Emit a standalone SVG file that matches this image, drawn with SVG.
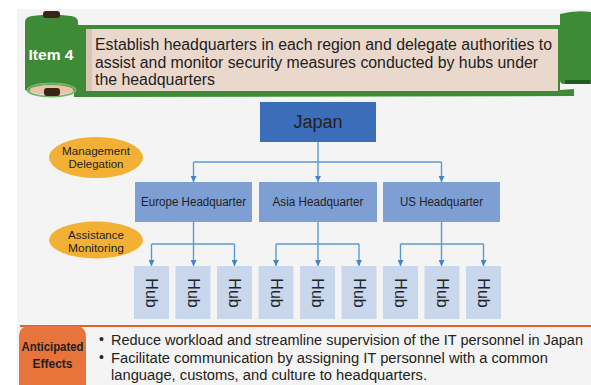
<svg xmlns="http://www.w3.org/2000/svg" width="591" height="385" viewBox="0 0 591 385">
<defs>
<style>
.t{font-family:"Liberation Sans",Arial,sans-serif;fill:#222}
.hq{fill:#7d9fd3}
.hub{fill:#c8d7ec}
.ell{fill:#f2b134}
.con{fill:none;stroke:#5b9bd5;stroke-width:1.4}
</style>
<marker id="ah" viewBox="0 0 6 6" refX="6" refY="3" markerWidth="6" markerHeight="6" markerUnits="userSpaceOnUse" orient="auto">
<path d="M0,0 L6,3 L0,6 Z" fill="#3f86c8"/>
</marker>
</defs>
<rect x="0" y="0" width="591" height="385" fill="#ffffff"/>
<rect x="17" y="9" width="574" height="376" fill="#f4f4f4"/>

<g id="banner">
<path d="M74,25 L560,25 L560,90 L574,89 L574,96 L74,97 Z" fill="#3d8b37"/>
<rect x="86" y="29" width="472" height="62" fill="#ebd8cc"/>
<rect x="86" y="29" width="6" height="62" fill="#d8c3b7"/>
<path d="M560,14 Q575,10 591,12 L591,84 L564,84 Q560,84 560,80 Z" fill="#3d8b37"/>
<path d="M565,80 L590,80 L590,84 L565,84 Z" fill="#1f5a22"/>
<path d="M25,22 Q25,17 32,16 Q51,13 71,16 Q78,17 78,22 L78,90 Q51,98 25,90 Z" fill="#3d8b37"/>
<ellipse cx="51.5" cy="90" rx="22" ry="5" fill="#e9c2a8"/>
<ellipse cx="51.5" cy="90" rx="24" ry="6.5" fill="none" stroke="#77b66f" stroke-width="2"/>
<rect x="43" y="11" width="17" height="7" rx="3" fill="#3a2418"/>
<rect x="44" y="88" width="16" height="8" rx="3" fill="#3a2418"/>
<text class="t" x="51" y="60" font-size="15" font-weight="bold" style="fill:#fff" text-anchor="middle" textLength="45" lengthAdjust="spacingAndGlyphs">Item 4</text>
<text class="t" font-size="16" x="95" y="50" textLength="457" lengthAdjust="spacingAndGlyphs">Establish headquarters in each region and delegate authorities to</text>
<text class="t" font-size="16" x="95" y="68" textLength="443" lengthAdjust="spacingAndGlyphs">assist and monitor security measures conducted by hubs under</text>
<text class="t" font-size="16" x="95" y="85" textLength="120" lengthAdjust="spacingAndGlyphs">the headquarters</text>
</g>

<g id="connectors">
<path class="con" d="M318,142 V162"/>
<path class="con" d="M193.5,162 H441.5"/>
<path class="con" d="M193.5,162 V182" marker-end="url(#ah)"/>
<path class="con" d="M318,162 V182" marker-end="url(#ah)"/>
<path class="con" d="M441.5,162 V182" marker-end="url(#ah)"/>
<path class="con" d="M193.5,222 V266" marker-end="url(#ah)"/>
<path class="con" d="M151.5,244 H234.5"/>
<path class="con" d="M151.5,244 V266" marker-end="url(#ah)"/>
<path class="con" d="M234.5,244 V266" marker-end="url(#ah)"/>
<path class="con" d="M318,222 V266" marker-end="url(#ah)"/>
<path class="con" d="M276,244 H359"/>
<path class="con" d="M276,244 V266" marker-end="url(#ah)"/>
<path class="con" d="M359,244 V266" marker-end="url(#ah)"/>
<path class="con" d="M441.5,222 V266" marker-end="url(#ah)"/>
<path class="con" d="M400.5,244 H483.5"/>
<path class="con" d="M400.5,244 V266" marker-end="url(#ah)"/>
<path class="con" d="M483.5,244 V266" marker-end="url(#ah)"/>
</g>

<g id="japan">
<rect x="260" y="102" width="116" height="40" fill="#3b6db8"/>
<text class="t" x="318" y="128" font-size="18" text-anchor="middle">Japan</text>
</g>

<g id="mgmt">
<ellipse class="ell" cx="96" cy="157.5" rx="47" ry="20.5"/>
<text class="t" x="96" y="154.5" font-size="11.5" text-anchor="middle" textLength="68" lengthAdjust="spacingAndGlyphs">Management</text>
<text class="t" x="96" y="167.5" font-size="11.5" text-anchor="middle" textLength="55" lengthAdjust="spacingAndGlyphs">Delegation</text>
</g>
<g id="assist">
<ellipse class="ell" cx="96" cy="240" rx="47" ry="18.5"/>
<text class="t" x="96" y="238.5" font-size="11.5" text-anchor="middle" textLength="56" lengthAdjust="spacingAndGlyphs">Assistance</text>
<text class="t" x="96" y="251.5" font-size="11.5" text-anchor="middle" textLength="56" lengthAdjust="spacingAndGlyphs">Monitoring</text>
</g>

<g id="hq-europe">
<rect class="hq" x="135" y="182" width="117" height="40"/>
<text class="t" x="193.5" y="206" font-size="12.5" text-anchor="middle" textLength="105" lengthAdjust="spacingAndGlyphs">Europe Headquarter</text>
</g>
<g id="hq-asia">
<rect class="hq" x="259" y="182" width="118" height="40"/>
<text class="t" x="318" y="206" font-size="12.5" text-anchor="middle" textLength="91" lengthAdjust="spacingAndGlyphs">Asia Headquarter</text>
</g>
<g id="hq-us">
<rect class="hq" x="383" y="182" width="117" height="40"/>
<text class="t" x="441.5" y="206" font-size="12.5" text-anchor="middle" textLength="83" lengthAdjust="spacingAndGlyphs">US Headquarter</text>
</g>

<g id="hub1"><rect class="hub" x="134" y="266" width="35" height="53"/><text class="t" font-size="16" text-anchor="middle" transform="translate(151.5,293) rotate(90)" y="5.5">Hub</text></g>
<g id="hub2"><rect class="hub" x="175.5" y="266" width="35" height="53"/><text class="t" font-size="16" text-anchor="middle" transform="translate(193,293) rotate(90)" y="5.5">Hub</text></g>
<g id="hub3"><rect class="hub" x="217" y="266" width="35" height="53"/><text class="t" font-size="16" text-anchor="middle" transform="translate(234.5,293) rotate(90)" y="5.5">Hub</text></g>
<g id="hub4"><rect class="hub" x="258.5" y="266" width="35" height="53"/><text class="t" font-size="16" text-anchor="middle" transform="translate(276,293) rotate(90)" y="5.5">Hub</text></g>
<g id="hub5"><rect class="hub" x="300" y="266" width="35" height="53"/><text class="t" font-size="16" text-anchor="middle" transform="translate(317.5,293) rotate(90)" y="5.5">Hub</text></g>
<g id="hub6"><rect class="hub" x="341.5" y="266" width="35" height="53"/><text class="t" font-size="16" text-anchor="middle" transform="translate(359,293) rotate(90)" y="5.5">Hub</text></g>
<g id="hub7"><rect class="hub" x="383" y="266" width="35" height="53"/><text class="t" font-size="16" text-anchor="middle" transform="translate(400.5,293) rotate(90)" y="5.5">Hub</text></g>
<g id="hub8"><rect class="hub" x="424.5" y="266" width="35" height="53"/><text class="t" font-size="16" text-anchor="middle" transform="translate(442,293) rotate(90)" y="5.5">Hub</text></g>
<g id="hub9"><rect class="hub" x="466" y="266" width="35" height="53"/><text class="t" font-size="16" text-anchor="middle" transform="translate(483.5,293) rotate(90)" y="5.5">Hub</text></g>

<g id="effects">
<line x1="20" y1="326" x2="591" y2="326" stroke="#e0622c" stroke-width="2"/>
<path d="M19,385 V337 Q19,326 30,326 H75 Q86,326 86,337 V385 Z" fill="#e8743b"/>
<text class="t" x="52.5" y="351" font-size="12" font-weight="bold" text-anchor="middle" textLength="62" lengthAdjust="spacingAndGlyphs">Anticipated</text>
<text class="t" x="52.5" y="368" font-size="12" font-weight="bold" text-anchor="middle">Effects</text>
<text class="t" x="99" y="344" font-size="14">•</text>
<text class="t" x="99" y="362" font-size="14">•</text>
<text class="t" x="111" y="345" font-size="15.5" textLength="472" lengthAdjust="spacingAndGlyphs">Reduce workload and streamline supervision of the IT personnel in Japan</text>
<text class="t" x="111" y="363" font-size="15.5" textLength="437" lengthAdjust="spacingAndGlyphs">Facilitate communication by assigning IT personnel with a common</text>
<text class="t" x="111" y="380" font-size="15.5" textLength="316" lengthAdjust="spacingAndGlyphs">language, customs, and culture to headquarters.</text>
</g>
</svg>
